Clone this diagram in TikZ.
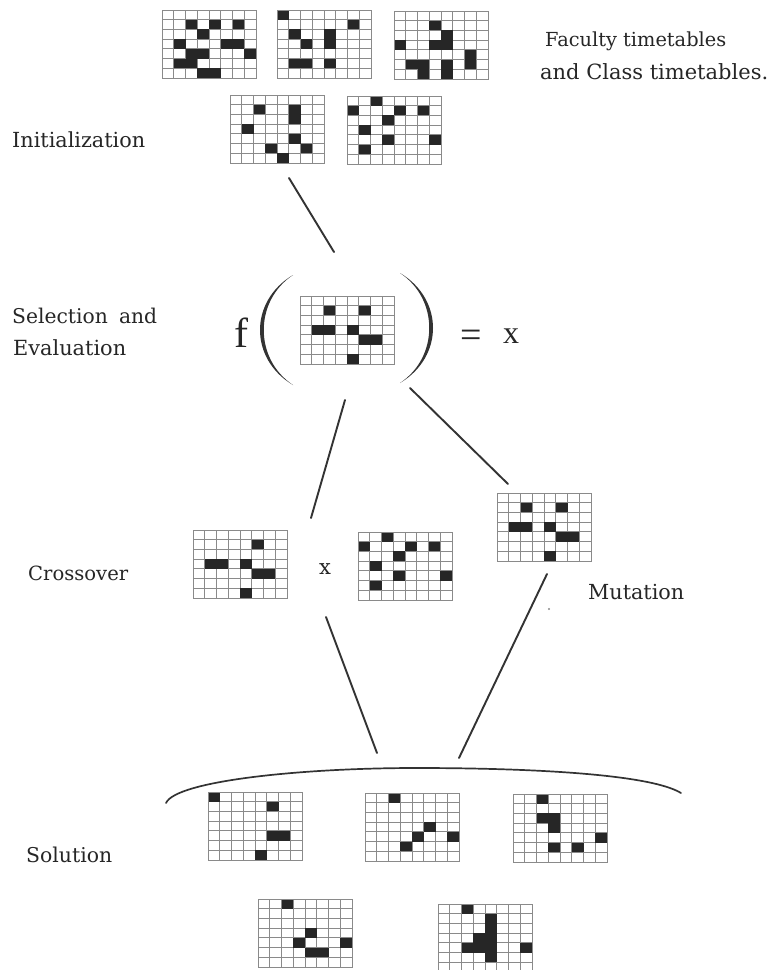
\documentclass[tikz,border=0pt]{standalone}
\usepackage{fontspec}
\setmainfont{DejaVu Serif}
\newfontfamily\mathlike{Liberation Serif}
\definecolor{gridgray}{HTML}{8A8A8A}
\definecolor{cellblack}{HTML}{262626}
\definecolor{linegray}{HTML}{333333}
\definecolor{textgray}{HTML}{262626}
\newcommand{\ttgrid}[4]{%
  \node[gridbox] (#1) at (#2,#3) {};
  \begin{scope}[shift={(#2,#3)}]
    \foreach \k in {1,...,7} {\draw[gridline] ({\k*11.75},0) -- ++(0,68);}
    \foreach \k in {1,...,6} {\draw[gridline] (0,{\k*9.714}) -- ++(94,0);}
    \foreach \cc/\rr in {#4} {\fill[cellfill] ({(\cc-1)*11.75},{(\rr-1)*9.714}) rectangle ++(11.75,9.714);}
  \end{scope}
  \draw[gridline] (#1.north west) rectangle (#1.south east);
}
\begin{document}
\begin{tikzpicture}[x=1pt,y=-1pt,
  gridline/.style={draw=gridgray, line width=0.8pt},
  cellfill/.style={fill=cellblack},
  conn/.style={draw=linegray, line width=1.9pt, line cap=round},
  lbl/.style={anchor=west, inner sep=0pt, text=textgray, font=\fontsize{18}{20}\selectfont},
  sym/.style={inner sep=0pt, text=textgray},
  gridbox/.style={draw=gridgray, line width=0.8pt, fill=white, minimum width=94pt, minimum height=68pt, inner sep=0pt, anchor=north west}]
\fill[white] (0,0) rectangle (768,970);
\useasboundingbox (0,0) rectangle (768,970);

% initial population
\ttgrid{gA}{162}{10}{3/2,5/2,7/2,4/3,2/4,6/4,7/4,3/5,4/5,8/5,2/6,3/6,4/7,5/7}
\ttgrid{gB}{277}{10}{1/1,7/2,2/3,5/3,3/4,5/4,2/6,3/6,5/6}
\ttgrid{gC}{394}{11}{4/2,5/3,4/4,5/4,1/4,7/5,7/6,2/6,3/6,3/7,5/6,5/7}
\ttgrid{gD}{230}{95}{3/2,6/2,6/3,2/4,6/5,4/6,7/6,5/7}
\ttgrid{gE}{347}{96}{3/1,1/2,5/2,7/2,4/3,2/4,4/5,8/5,2/6}

% evaluation
\ttgrid{gF}{300}{296}{3/2,6/2,2/4,3/4,5/4,6/5,7/5,5/7}

% crossover and mutation
\ttgrid{gX1}{193}{530}{6/2,2/4,3/4,5/4,6/5,7/5,5/7}
\ttgrid{gX2}{358}{532}{3/1,1/2,5/2,7/2,4/3,2/4,4/5,8/5,2/6}
\ttgrid{gM}{497}{493}{3/2,6/2,2/4,3/4,5/4,6/5,7/5,5/7}

% solutions
\ttgrid{gS1}{208}{792}{1/1,6/2,6/5,7/5,5/7}
\ttgrid{gS2}{365}{793}{3/1,6/4,5/5,8/5,4/6}
\ttgrid{gS3}{513}{794}{3/1,3/3,4/3,4/4,8/5,4/6,6/6}
\ttgrid{gB1}{258}{899}{3/1,5/4,4/5,8/5,5/6,6/6}
\ttgrid{gB2}{438}{904}{3/1,5/2,5/3,4/4,5/4,3/5,4/5,5/5,8/5,5/6}

% labels
\node[lbl] (tFac) at (545,41) {\resizebox{181pt}{!}{Faculty timetables}};
\node[lbl] (tCls) at (540,72) {\resizebox{228pt}{!}{and Class timetables.}};
\node[lbl] (tIni) at (12,140) {\resizebox{133pt}{!}{Initialization}};
\node[lbl] (tSel) at (12,316) {\resizebox{145pt}{!}{Selection\hspace{0.55em}and}};
\node[lbl] (tEva) at (13,348) {\resizebox{113pt}{!}{Evaluation}};
\node[lbl] (tCro) at (28,573) {\resizebox{100pt}{!}{Crossover}};
\node[lbl] (tMut) at (588,592) {\resizebox{96pt}{!}{Mutation}};
\node[lbl] (tSol) at (26,855) {\resizebox{86pt}{!}{Solution}};

% f( ) = x
\node[sym] (fsym) at (241,333) {\mathlike\fontsize{42}{44}\selectfont f};
\fill[linegray] (293,275) .. controls (249,301) and (249,359) .. (293,385)
   .. controls (254,359) and (254,301) .. (293,275) -- cycle;
\fill[linegray] (400,273) .. controls (444,299) and (444,357) .. (400,383)
   .. controls (439,357) and (439,299) .. (400,273) -- cycle;
\node[sym] (eqs) at (471,339) {\mathlike\fontsize{38}{40}\selectfont =};
\node[sym] (xv) at (511,336) {\mathlike\fontsize{32}{34}\selectfont x};
\node[sym] (cx) at (325,569) {\fontsize{21}{23}\selectfont x};

% connectors
\coordinate (l1a) at (289,178); \coordinate (l1b) at (334,252);
\coordinate (l2a) at (345,400); \coordinate (l2b) at (311,518);
\coordinate (l3a) at (410,388); \coordinate (l3b) at (508,484);
\coordinate (l4a) at (326,617); \coordinate (l4b) at (377,753);
\coordinate (l5a) at (547,574); \coordinate (l5b) at (459,758);
\draw[conn] (l1a) -- (l1b);
\draw[conn] (l2a) -- (l2b);
\draw[conn] (l3a) -- (l3b);
\draw[conn] (l4a) -- (l4b);
\draw[conn] (l5a) -- (l5b);
\fill[gridgray] (549,609) circle (1.1);

% solution brace
\coordinate (arcL) at (166,803); \coordinate (arcM) at (416,768); \coordinate (arcR) at (681,793);
\draw[conn, line width=1.7pt] (arcL) .. controls (176,781) and (300,768) .. (arcM)
   .. controls (530,768) and (650,774) .. (arcR);
\end{tikzpicture}
\end{document}
